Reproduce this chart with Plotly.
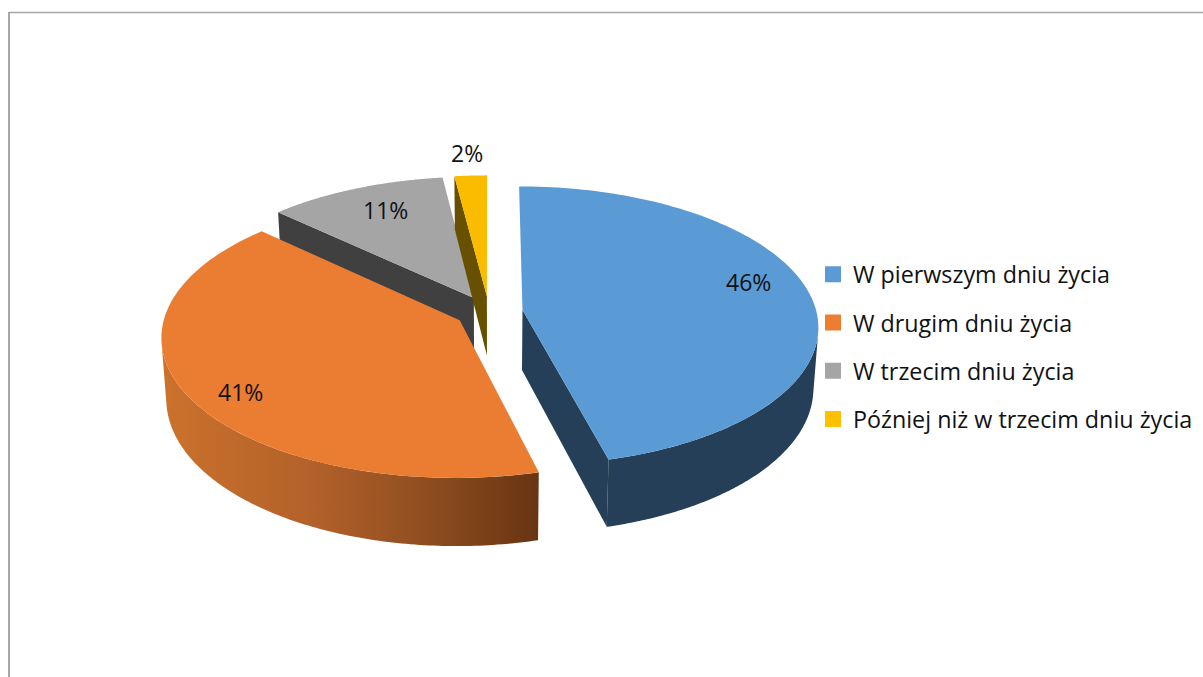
import numpy as np
import plotly.graph_objects as go

# Data
categories = ["W pierwszym dniu życia", "W drugim dniu życia", "W trzecim dniu życia", "Później niż w trzecim dniu życia"]
values = [46, 41, 11, 2]
value_labels = ["46%", "41%", "11%", "2%"]

# Style
top_colors = ["#5B9BD5", "#EB7D32", "#A5A5A5", "#FBBC00"]
legend_colors = ["#5B9BD5", "#ED7D31", "#A5A5A5", "#FFC000"]
wall_colors = ["#243F57", "#8A4A1E", "#404040", "#675100"]
orange_wall_scale = [[0, "#CB722C"], [0.4, "#B3612A"], [0.7, "#8F4E20"], [1, "#683412"]]
FONT = "Open Sans"
W, H = 1203, 677

# Projection of the tilted 3D pie, in pixel space of the chart area
CX, CY = 489.0, 312.0
RX, RY = 294.0, 138.0
PERSP = 0.113
EXPLODE = 0.115
DEPTH = 60.0
LOWER_SCALE = 0.985
# Compass angles at which the side wall's silhouette leaves the rim
RIGHT_SILHOUETTE = np.radians(99)
LEFT_SILHOUETTE = np.radians(261)


def project(u, v, lower=False):
    u, v = np.asarray(u, float), np.asarray(v, float)
    d = 1 + PERSP * v
    x = CX + RX * u / d
    y = CY - RY * v / d
    if lower:
        x = CX + (x - CX) * LOWER_SCALE
        y = y + DEPTH / d
    return x, y


total = sum(values)
ends = np.cumsum(values) / total * 2 * np.pi
starts = np.concatenate([[0], ends[:-1]])
mids = (starts + ends) / 2
apex_u = EXPLODE * np.sin(mids)
apex_v = EXPLODE * np.cos(mids)


def rim(i, a0=None, a1=None):
    t = np.linspace(starts[i] if a0 is None else a0, ends[i] if a1 is None else a1, 120)
    return apex_u[i] + np.sin(t), apex_v[i] + np.cos(t)


def top_poly(i):
    u, v = rim(i)
    return project(np.r_[apex_u[i], u, apex_u[i]], np.r_[apex_v[i], v, apex_v[i]])


def wall_poly(i, a0, a1):
    u, v = rim(i, a0, a1)
    x1, y1 = project(u, v)
    x2, y2 = project(u[::-1], v[::-1], lower=True)
    return np.r_[x1, x2, x1[0]], np.r_[y1, y2, y1[0]]


def cut_poly(i, angle):
    eu, ev = apex_u[i] + np.sin(angle), apex_v[i] + np.cos(angle)
    us, vs = np.array([apex_u[i], eu]), np.array([apex_v[i], ev])
    x1, y1 = project(us, vs)
    x2, y2 = project(us[::-1], vs[::-1], lower=True)
    return np.r_[x1, x2, x1[0]], np.r_[y1, y2, y1[0]]


fig = go.Figure()


def add_poly(xy, color=None, gradient=None):
    kw = dict(x=xy[0], y=xy[1], mode="none", fill="toself", showlegend=False, hoverinfo="skip")
    if gradient:
        kw["fillgradient"] = dict(type="horizontal", colorscale=gradient)
    else:
        kw["fillcolor"] = color
    fig.add_trace(go.Scatter(**kw))


# Painter's order: back slices first
add_poly(cut_poly(2, starts[2]), wall_colors[2])
add_poly(top_poly(2), top_colors[2])
add_poly(cut_poly(3, starts[3]), wall_colors[3])
add_poly(top_poly(3), top_colors[3])
add_poly(cut_poly(0, ends[0]), wall_colors[0])
add_poly(wall_poly(0, RIGHT_SILHOUETTE, ends[0]), wall_colors[0])
add_poly(top_poly(0), top_colors[0])
add_poly(wall_poly(1, starts[1], LEFT_SILHOUETTE), gradient=orange_wall_scale)
add_poly(top_poly(1), top_colors[1])

# Legend entries
for name, color in zip(categories, legend_colors):
    fig.add_trace(go.Scatter(x=[None], y=[None], mode="markers", name=name, legendgroup=name,
                             marker=dict(symbol="square", size=16, color=color)))

# Data labels
label_radius = [0.8, 0.8, 0.8, 1.25]
label_nudge = [(-4, -14), (-4, 12), (8, 1), (0, 4)]
for i, txt in enumerate(value_labels):
    lx, ly = project(apex_u[i] + label_radius[i] * np.sin(mids[i]), apex_v[i] + label_radius[i] * np.cos(mids[i]))
    fig.add_annotation(x=float(lx), y=float(ly), text=txt, showarrow=False,
                       xshift=label_nudge[i][0], yshift=-label_nudge[i][1],
                       font=dict(family=FONT, size=23, color="#111111"))

fig.add_shape(type="line", xref="x", yref="y", x0=9, x1=W, y0=12.5, y1=12.5, line=dict(color="#A6A6A6", width=1.5))
fig.add_shape(type="line", xref="x", yref="y", x0=9, x1=9, y0=12, y1=H, line=dict(color="#A6A6A6", width=2))

fig.update_layout(
    width=W, height=H, margin=dict(l=0, r=0, t=0, b=0),
    paper_bgcolor="white", plot_bgcolor="white",
    xaxis=dict(range=[0, W], visible=False, fixedrange=True),
    yaxis=dict(range=[H, 0], visible=False, fixedrange=True),
    showlegend=True,
    legend=dict(x=813 / W, xanchor="left", y=1 - 252.5 / H, yanchor="top", tracegroupgap=15,
                bgcolor="rgba(0,0,0,0)", font=dict(family=FONT, size=23.3, color="#111111")),
)
fig.write_html("out.html", config={"displayModeBar": False},
               post_script="document.body.style.margin='0';document.body.style.overflow='hidden';")
